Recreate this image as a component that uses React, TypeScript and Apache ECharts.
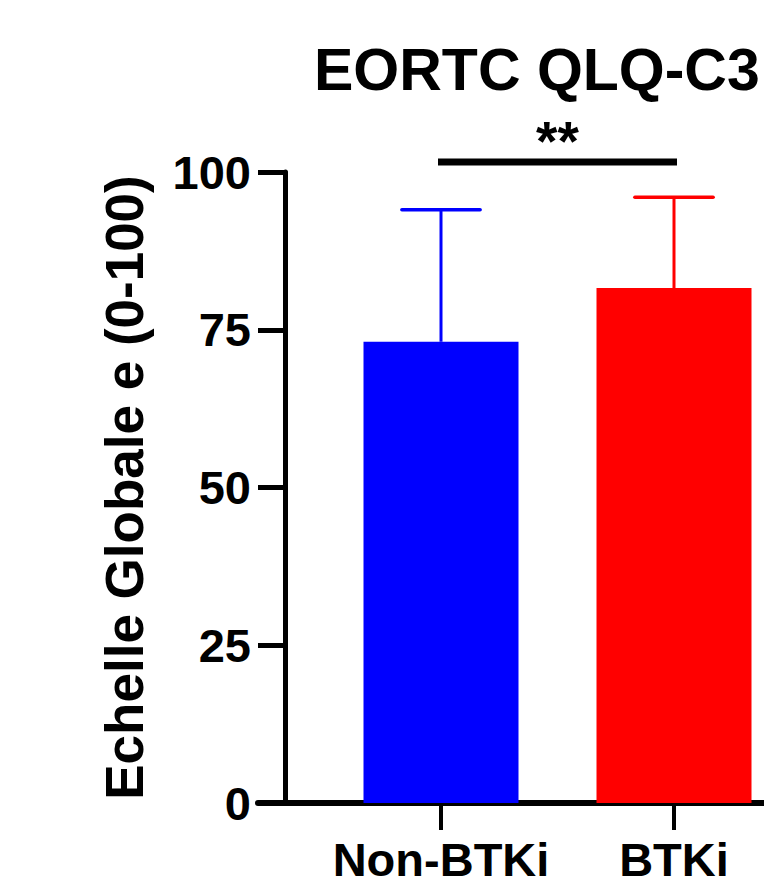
import React, { useEffect, useRef } from "react";
import * as echarts from "echarts";

const titleText = "EORTC QLQ-C3";
const yAxisName = "Echelle Globale e (0-100)";
const categories = ["Non-BTKi", "BTKi"];
const means = [73.1, 81.6];
const sds = [20.9, 14.4];
const barColors = ["#0000FF", "#FF0000"];
const yMin = 0;
const yMax = 100;
const yInterval = 25;
const sigPairs = [[0, 1]];
const sigLabels = ["**"];
const sigLevel = 101.6;

const FONT = "'Liberation Sans', Arial, Helvetica, sans-serif";

export default function App() {
  const ref = useRef<HTMLDivElement>(null);
  useEffect(() => {
    if (!ref.current) return;
    const chart = echarts.init(ref.current, null, { renderer: "svg" });
    const option: any = {
      animation: false,
      backgroundColor: "#ffffff",
      title: {
        text: titleText,
        left: 309,
        top: 35,
        textStyle: { fontFamily: FONT, fontSize: 59, fontWeight: "bold", color: "#000" },
      },
      grid: [
        { left: 324.5, top: 172, width: 466, height: 631, containLabel: false, outerBoundsMode: "none" },
        { left: 258, right: 0, top: 172, bottom: 83, containLabel: false, outerBoundsMode: "none" },
      ],
      xAxis: [
        {
          type: "category",
          gridIndex: 0,
          data: categories,
          axisLine: { show: false },
          axisTick: { show: true, alignWithLabel: true, interval: 0, length: 27, lineStyle: { color: "#000", width: 4 } },
          axisLabel: { interval: 0, fontFamily: FONT, fontSize: 47, lineHeight: 38, fontWeight: "bold", color: "#000", margin: 37 },
        },
        {
          type: "value",
          gridIndex: 1,
          min: 0,
          max: 1,
          axisLine: { show: true, onZero: false, lineStyle: { color: "#000", width: 6 } },
          axisTick: { show: false },
          axisLabel: { show: false },
          splitLine: { show: false },
        },
      ],
      yAxis: [
        {
          type: "value",
          gridIndex: 0,
          min: yMin,
          max: yMax,
          interval: yInterval,
          offset: 39.5,
          name: yAxisName,
          nameLocation: "middle",
          nameRotate: 90,
          nameGap: 134,
          nameTextStyle: { fontFamily: FONT, fontSize: 53, fontWeight: "bold", color: "#000" },
          axisLine: { show: true, lineStyle: { color: "#000", width: 5 } },
          axisTick: { show: true, length: 27, lineStyle: { color: "#000", width: 5 } },
          axisLabel: { fontFamily: FONT, fontSize: 47, fontWeight: "bold", color: "#000", margin: 34 },
          splitLine: { show: false },
        },
        {
          type: "value",
          gridIndex: 1,
          show: false,
          min: 0,
          max: 1,
        },
      ],
      series: [
        {
          type: "bar",
          xAxisIndex: 0,
          yAxisIndex: 0,
          barWidth: 155,
          data: means.map((v, i) => ({ value: v, itemStyle: { color: barColors[i] } })),
        },
        {
          type: "custom",
          xAxisIndex: 0,
          yAxisIndex: 0,
          clip: false,
          z: 3,
          data: means.map((m, i) => [i, m, sds[i]]),
          renderItem: (params: any, api: any) => {
            const i = api.value(0);
            const m = api.value(1);
            const s = api.value(2);
            const base = api.coord([i, m]);
            const top = api.coord([i, m + s]);
            const band = api.size([1, 0])[0];
            const half = band * 0.168;
            const color = barColors[params.dataIndex];
            return {
              type: "group",
              children: [
                { type: "line", shape: { x1: base[0], y1: base[1], x2: top[0], y2: top[1] }, style: { stroke: color, lineWidth: 3 } },
                { type: "line", shape: { x1: top[0] - half, y1: top[1], x2: top[0] + half, y2: top[1] }, style: { stroke: color, lineWidth: 3.5, lineCap: "round" } },
              ],
            };
          },
        },
        {
          type: "custom",
          xAxisIndex: 0,
          yAxisIndex: 0,
          clip: false,
          z: 3,
          data: sigPairs.map((p) => [p[0], p[1], sigLevel]),
          renderItem: (params: any, api: any) => {
            const a = api.coord([api.value(0), api.value(2)]);
            const b = api.coord([api.value(1), api.value(2)]);
            return {
              type: "group",
              children: [
                { type: "line", shape: { x1: a[0] - 3, y1: a[1], x2: b[0] + 3, y2: b[1] }, style: { stroke: "#000", lineWidth: 7 } },
                {
                  type: "text",
                  style: {
                    text: sigLabels[params.dataIndex],
                    x: (a[0] + b[0]) / 2,
                    y: a[1] - 21,
                    textAlign: "center",
                    textVerticalAlign: "middle",
                    fontFamily: FONT,
                    fontSize: 55,
                    fontWeight: "bold",
                    fill: "#000",
                  },
                },
              ],
            };
          },
        },
      ],
    };
    chart.setOption(option);
    return () => chart.dispose();
  }, []);
  return <div ref={ref} style={{ position: "fixed", left: 0, top: 0, width: 764, height: 886 }} />;
}
